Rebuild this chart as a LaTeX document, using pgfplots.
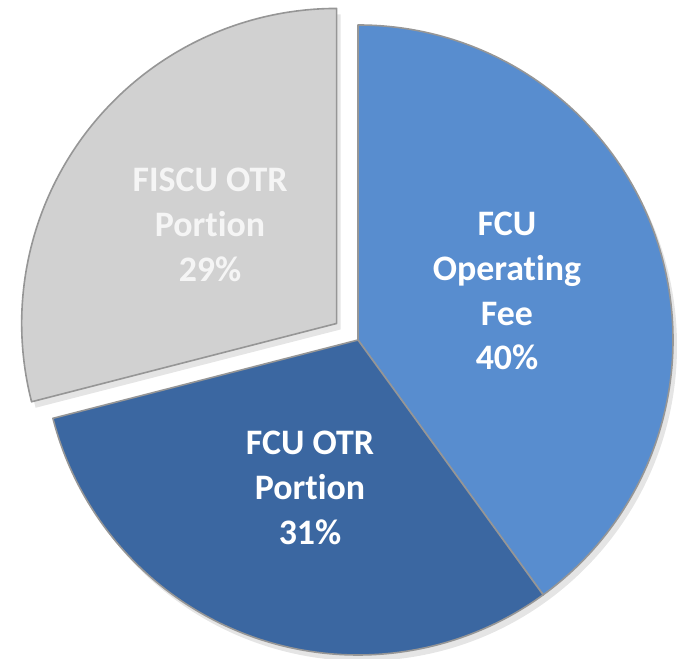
\documentclass[border=0pt]{standalone}
\usepackage{pgfplots}
\pgfplotsset{compat=1.18}
\usepackage{pgfplotstable}
\usepackage{fontspec}
\setmainfont[Ligatures=NoCommon]{Carlito}

\definecolor{opblue}{RGB}{88,141,207}
\definecolor{otrblue}{RGB}{59,103,161}
\definecolor{fiscugray}{RGB}{209,209,209}
\definecolor{edgegray}{RGB}{150,150,150}
\definecolor{labelgray}{RGB}{245,245,245}

% slice shares in percent, clockwise from 12 o'clock
\pgfplotstableread{
label value
op    40
otr   31
fiscu 29
}\piedata

\begin{document}%
\begin{tikzpicture}
\pgfplotstablegetelem{0}{value}\of\piedata \let\va\pgfplotsretval
\pgfplotstablegetelem{1}{value}\of\piedata \let\vb\pgfplotsretval
\pgfplotstablegetelem{2}{value}\of\piedata \let\vc\pgfplotsretval
\def\cx{358}\def\cy{319}\def\R{315bp}
\pgfmathsetmacro\aA{90}
\pgfmathsetmacro\aB{\aA-3.6*\va}
\pgfmathsetmacro\aC{\aB-3.6*\vb}
\pgfmathsetmacro\aD{\aC-3.6*\vc}
\pgfmathsetmacro\aM{(\aC+\aD)/2}
\pgfmathsetmacro\ex{\cx+27*cos(\aM)}
\pgfmathsetmacro\ey{\cy+27*sin(\aM)}
\begin{axis}[
    x=1bp, y=1bp,
    xmin=0, xmax=677, ymin=0, ymax=659,
    hide axis, clip=false,
]
  \coordinate (LL) at (axis cs:0,0);
  \coordinate (UR) at (axis cs:677,659);
  % soft shadow
  \fill[black, opacity=0.10] (axis cs:\cx+4,\cy-6) -- ++(\aA:\R)
      arc[start angle=\aA, end angle=\aC, radius=\R] -- cycle;
  \fill[black, opacity=0.10] (axis cs:\ex+4,\ey-6) -- ++(\aC:\R)
      arc[start angle=\aC, end angle=\aD, radius=\R] -- cycle;
  % FCU Operating Fee
  \filldraw[fill=opblue, draw=edgegray, line width=1.6bp, line join=round]
      (axis cs:\cx,\cy) -- ++(\aA:\R)
      arc[start angle=\aA, end angle=\aB, radius=\R] -- cycle;
  % FCU OTR Portion
  \filldraw[fill=otrblue, draw=edgegray, line width=1.6bp, line join=round]
      (axis cs:\cx,\cy) -- ++(\aB:\R)
      arc[start angle=\aB, end angle=\aC, radius=\R] -- cycle;
  % FISCU OTR Portion (pulled out)
  \filldraw[fill=fiscugray, draw=edgegray, line width=1.6bp, line join=round]
      (axis cs:\ex,\ey) -- ++(\aC:\R)
      arc[start angle=\aC, end angle=\aD, radius=\R] -- cycle;

  \begin{scope}[font=\fontsize{36}{45}\selectfont\bfseries, align=center]
    \node[text=white] at (axis cs:507,368) {FCU\\Operating\\Fee\\40\%};
    \node[text=white] at (axis cs:310,171) {FCU OTR\\Portion\\31\%};
    \node[text=labelgray] at (axis cs:210,434) {FISCU OTR\\Portion\\29\%};
  \end{scope}
\end{axis}
\pgfresetboundingbox
\path (LL) rectangle (UR);
\end{tikzpicture}%
\end{document}
